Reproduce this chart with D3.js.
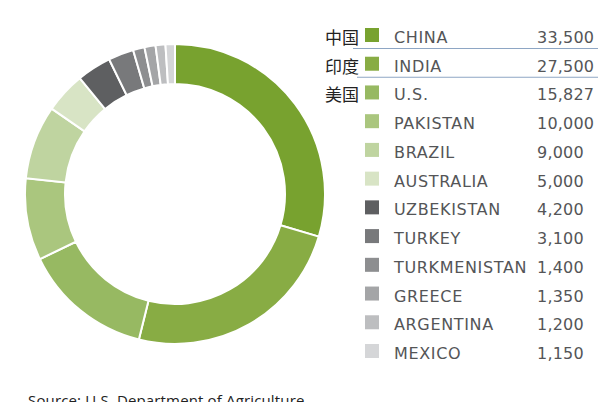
<!DOCTYPE html>
<html>
<head>
<meta charset="utf-8">
<script src="https://d3js.org/d3.v7.min.js"></script>
<style>
  body { margin: 0; background: #fff; }
  svg { display: block; }
</style>
</head>
<body>
<div id="chart"></div>
<script>
// cotton production by country (thousand bales)
var countries = ["CHINA", "INDIA", "U.S.", "PAKISTAN", "BRAZIL", "AUSTRALIA",
    "UZBEKISTAN", "TURKEY", "TURKMENISTAN", "GREECE", "ARGENTINA", "MEXICO"];
var values = [33500, 27500, 15827, 10000, 9000, 5000, 4200, 3100, 1400, 1350, 1200, 1150];
var valueLabels = ["33,500", "27,500", "15,827", "10,000", "9,000", "5,000",
    "4,200", "3,100", "1,400", "1,350", "1,200", "1,150"];
var chineseLabels = ["中国", "印度", "美国"];
var colors = ["#78a22f", "#88ac44", "#97b962", "#aac67e", "#bfd4a0", "#d8e4c5",
    "#5e5f61", "#78797b", "#8d8e90", "#a4a5a7", "#bdbec0", "#d5d6d8"];

var width = 602;
var height = 402;

var svg = d3.select('#chart')
    .append('svg')
    .attr('width', width)
    .attr('height', height);

var data = countries.map(function(c, i) {
    return { country: c, value: values[i], label: valueLabels[i], color: colors[i] };
});

//donut
var pie = d3.pie()
    .sort(null)
    .value(function(d) { return d.value; });

var arc = d3.arc()
    .innerRadius(110)
    .outerRadius(150);

var donut = svg.append("g")
    .attr("transform", "translate(175,194)");

donut.selectAll("path")
    .data(pie(data))
    .enter()
    .append("path")
    .attr("d", arc)
    .attr("fill", function(d) { return d.data.color; })
    .attr("stroke", "#fff")
    .attr("stroke-width", 2);

//legend
var yscale = d3.scalePoint()
    .domain(countries)
    .range([37, 353]);

var legend = svg.append("g");

var rows = legend.selectAll("g.row")
    .data(data)
    .enter()
    .append("g")
    .attr("class", "row")
    .attr("transform", function(d) { return "translate(0," + yscale(d.country) + ")"; });

rows.append("rect")
    .attr("x", 365)
    .attr("y", -9)
    .attr("width", 14)
    .attr("height", 14)
    .attr("fill", function(d) { return d.color; });

rows.append("text")
    .attr("x", 394)
    .attr("y", 6)
    .style("font-family", "DejaVu Sans")
    .style("font-size", "16px")
    .style("letter-spacing", "0.65px")
    .style("fill", "#545557")
    .text(function(d) { return d.country; });

rows.append("text")
    .attr("x", 537)
    .attr("y", 6)
    .style("font-family", "DejaVu Sans")
    .style("font-size", "16px")
    .style("letter-spacing", "0.2px")
    .style("fill", "#545557")
    .text(function(d) { return d.label; });

//chinese notes on top three
legend.selectAll("text.cn")
    .data(chineseLabels)
    .enter()
    .append("text")
    .attr("class", "cn")
    .attr("x", 325)
    .attr("y", function(d, i) { return yscale(countries[i]) + 7; })
    .style("font-family", "serif, 'Noto Sans CJK SC'")
    .style("font-size", "17px")
    .style("fill", "#222")
    .text(function(d) { return d; });

//blue rule lines under CHINA and INDIA
legend.selectAll("line.rule")
    .data([countries[0], countries[1]])
    .enter()
    .append("line")
    .attr("class", "rule")
    .attr("x1", function(d, i) { return i === 0 ? 353 : 357; })
    .attr("x2", 598)
    .attr("y1", function(d) { return yscale(d) + 11.5; })
    .attr("y2", function(d) { return yscale(d) + 11.5; })
    .attr("stroke", "#8ea6c4")
    .attr("stroke-width", 1.2);

svg.append("text")
    .attr("x", 28)
    .attr("y", 406)
    .style("font-family", "Open Sans")
    .style("font-size", "15px")
    .style("letter-spacing", "0.15px")
    .style("fill", "#222")
    .text("Source: U.S. Department of Agriculture");
</script>
</body>
</html>
